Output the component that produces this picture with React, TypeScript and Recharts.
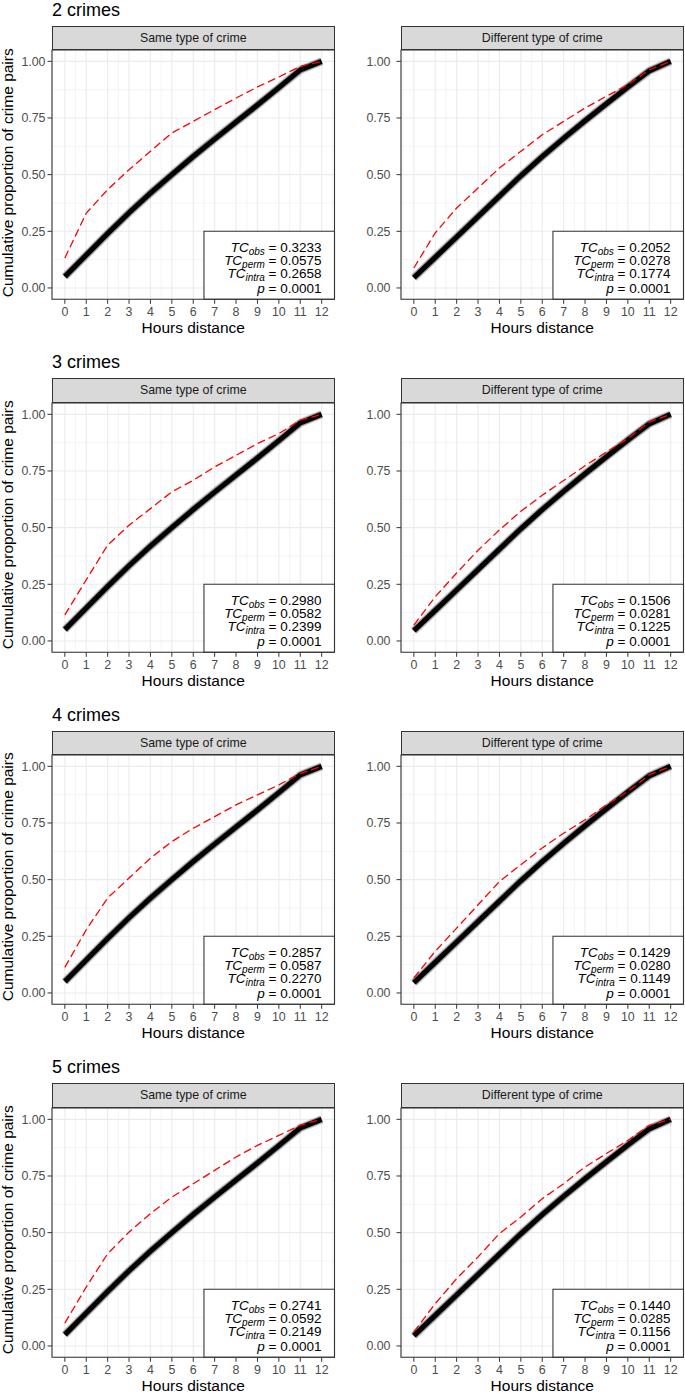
import React from "react";
import {
  LineChart,
  Line,
  XAxis,
  YAxis,
  CartesianGrid,
  ReferenceArea,
} from "recharts";

const FONT = '"Liberation Sans", Arial, Helvetica, sans-serif';

// hours distance (x) and tick sets
const hours = [0, 1, 2, 3, 4, 5, 6, 7, 8, 9, 10, 11, 12];
const xMinor = [-0.5, 0.5, 1.5, 2.5, 3.5, 4.5, 5.5, 6.5, 7.5, 8.5, 9.5, 10.5, 11.5, 12.5];
const yTicks = [0, 0.25, 0.5, 0.75, 1];
const yMinor = [0.125, 0.375, 0.625, 0.875];

const rowTitles = ["2 crimes", "3 crimes", "4 crimes", "5 crimes"];
const stripLabels = ["Same type of crime", "Different type of crime"];

// permutation envelope (black band)
const permSame = [0.05, 0.145, 0.24, 0.332, 0.418, 0.5, 0.58, 0.657, 0.732, 0.807, 0.884, 0.962, 1];
const permDiff = [0.045, 0.135, 0.225, 0.315, 0.405, 0.495, 0.58, 0.66, 0.738, 0.813, 0.887, 0.958, 1];

// observed curves (red dashed)
const obsSame2 = [0.132, 0.33, 0.434, 0.522, 0.603, 0.684, 0.735, 0.787, 0.838, 0.887, 0.931, 0.978, 1];
const obsDiff2 = [0.088, 0.243, 0.353, 0.441, 0.529, 0.603, 0.676, 0.735, 0.794, 0.846, 0.897, 0.963, 1];
const obsSame3 = [0.115, 0.27, 0.423, 0.511, 0.584, 0.658, 0.709, 0.768, 0.819, 0.871, 0.915, 0.974, 1];
const obsDiff3 = [0.07, 0.195, 0.3, 0.4, 0.49, 0.572, 0.643, 0.708, 0.773, 0.834, 0.893, 0.966, 1];
const obsSame4 = [0.113, 0.279, 0.419, 0.507, 0.595, 0.668, 0.727, 0.778, 0.83, 0.874, 0.918, 0.969, 1];
const obsDiff4 = [0.066, 0.184, 0.286, 0.389, 0.492, 0.566, 0.64, 0.705, 0.764, 0.83, 0.889, 0.962, 1];
const obsSame5 = [0.101, 0.26, 0.407, 0.503, 0.584, 0.657, 0.716, 0.775, 0.834, 0.885, 0.929, 0.974, 1];
const obsDiff5 = [0.062, 0.187, 0.297, 0.393, 0.496, 0.569, 0.65, 0.716, 0.79, 0.849, 0.907, 0.974, 1];

const obsSame = [obsSame2, obsSame3, obsSame4, obsSame5];
const obsDiff = [obsDiff2, obsDiff3, obsDiff4, obsDiff5];

// test statistics per row
const tcObsSame = ["0.3233", "0.2980", "0.2857", "0.2741"];
const tcPermSame = ["0.0575", "0.0582", "0.0587", "0.0592"];
const tcIntraSame = ["0.2658", "0.2399", "0.2270", "0.2149"];
const tcObsDiff = ["0.2052", "0.1506", "0.1429", "0.1440"];
const tcPermDiff = ["0.0278", "0.0281", "0.0280", "0.0285"];
const tcIntraDiff = ["0.1774", "0.1225", "0.1149", "0.1156"];
const pValues = ["0.0001", "0.0001", "0.0001", "0.0001"];

const ROW_STEP = 352.4;
const PLOT_TOP0 = 50.4;
const PLOT_H = 249.3;
const AXIS_H = 40;
const PAD = 2;
const PLOT_W = 282.5;

const COLS = [
  { left: 0, width: 340, yw: 52, tickMargin: 2 },
  { left: 340, width: 345, yw: 61, tickMargin: 6 },
];

function StatsText(props: any) {
  const { viewBox, obs, perm, intra, p } = props;
  if (!viewBox) return null;
  const rx = viewBox.x + viewBox.width - 13;
  const y = viewBox.y;
  const sub = { fontStyle: "italic" as const, fontSize: 10 };
  return (
    <g fontFamily={FONT} fontSize={13.5} fill="#000" style={{ whiteSpace: "pre" }}>
      <text x={rx} y={y + 21} textAnchor="end">
        <tspan fontStyle="italic">TC</tspan>
        <tspan {...sub} dy={2.5}>obs</tspan>
        <tspan dy={-2.5}>{" = " + obs}</tspan>
      </text>
      <text x={rx} y={y + 34} textAnchor="end">
        <tspan fontStyle="italic">TC</tspan>
        <tspan {...sub} dy={2.5}>perm</tspan>
        <tspan dy={-2.5}>{" = " + perm}</tspan>
      </text>
      <text x={rx} y={y + 47} textAnchor="end">
        <tspan fontStyle="italic">TC</tspan>
        <tspan {...sub} dy={2.5}>intra</tspan>
        <tspan dy={-2.5}>{" = " + intra}</tspan>
      </text>
      <text x={rx} y={y + 61.5} textAnchor="end">
        <tspan fontStyle="italic">p</tspan>
        <tspan>{" = " + p}</tspan>
      </text>
    </g>
  );
}

function Panel({ row, col }: { row: number; col: number }) {
  const c = COLS[col];
  const plotTop = PLOT_TOP0 + row * ROW_STEP;
  const perm = col === 0 ? permSame : permDiff;
  const obs = col === 0 ? obsSame[row] : obsDiff[row];
  const data = hours.map((h, i) => ({ h, perm: perm[i], obs: obs[i] }));
  const stats =
    col === 0
      ? { obs: tcObsSame[row], perm: tcPermSame[row], intra: tcIntraSame[row] }
      : { obs: tcObsDiff[row], perm: tcPermDiff[row], intra: tcIntraDiff[row] };
  const tickStyle = { fill: "#4D4D4D", fontSize: 12.4, fontFamily: FONT };
  const plotLeft = c.left + c.yw;

  return (
    <>
      <div style={{ position: "absolute", left: c.left, top: plotTop - PAD }}>
        <LineChart
          width={c.width}
          height={PAD + PLOT_H + AXIS_H}
          data={data}
          margin={{ top: PAD, right: c.width - c.yw - PLOT_W, bottom: 0, left: 0 }}
        >
          <XAxis
            xAxisId="minor"
            type="number"
            dataKey="h"
            domain={[-0.6, 12.6]}
            ticks={xMinor}
            allowDataOverflow
            hide
          />
          <YAxis
            yAxisId="minor"
            type="number"
            domain={[-0.05, 1.05]}
            ticks={yMinor}
            allowDataOverflow
            hide
          />
          <XAxis
            type="number"
            dataKey="h"
            domain={[-0.6, 12.6]}
            ticks={hours}
            interval={0}
            allowDataOverflow
            height={AXIS_H}
            axisLine={false}
            tickSize={4.5}
            tickMargin={3.5}
            tickLine={{ stroke: "#333333" }}
            tick={tickStyle}
            label={{
              value: "Hours distance",
              position: "insideBottom",
              offset: 6.5,
              fill: "#000",
              fontSize: 15.5,
              fontFamily: FONT,
            }}
          />
          <YAxis
            type="number"
            domain={[-0.05, 1.05]}
            ticks={yTicks}
            interval={0}
            allowDataOverflow
            width={c.yw}
            axisLine={false}
            tickSize={4.5}
            tickMargin={c.tickMargin}
            tickLine={{ stroke: "#333333" }}
            tick={tickStyle}
            tickFormatter={(v: number) => v.toFixed(2)}
          />
          <CartesianGrid xAxisId="minor" yAxisId="minor" stroke="#EBEBEB" strokeWidth={0.55} />
          <CartesianGrid stroke="#EBEBEB" strokeWidth={1.1} />
          <Line
            type="linear"
            dataKey="perm"
            stroke="#000"
            strokeOpacity={0.12}
            strokeWidth={9}
            dot={false}
            activeDot={false}
            isAnimationActive={false}
          />
          <Line
            type="linear"
            dataKey="perm"
            stroke="#000"
            strokeOpacity={0.35}
            strokeWidth={7}
            dot={false}
            activeDot={false}
            isAnimationActive={false}
          />
          <Line
            type="linear"
            dataKey="perm"
            stroke="#000"
            strokeWidth={5}
            dot={false}
            activeDot={false}
            isAnimationActive={false}
          />
          <Line
            type="linear"
            dataKey="obs"
            stroke="#FF0000"
            strokeWidth={1.3}
            strokeDasharray="8 4"
            dot={false}
            activeDot={false}
            isAnimationActive={false}
          />
          <ReferenceArea
            x1={6.5}
            x2={12.6}
            y1={-0.05}
            y2={0.25}
            fill="#FFFFFF"
            fillOpacity={1}
            stroke="#333333"
            strokeWidth={1.07}
            ifOverflow="visible"
            label={<StatsText obs={stats.obs} perm={stats.perm} intra={stats.intra} p={pValues[row]} />}
          />
          <ReferenceArea
            x1={-0.6}
            x2={12.6}
            y1={-0.05}
            y2={1.05}
            fill="none"
            stroke="#333333"
            strokeWidth={1.07}
            ifOverflow="visible"
          />
        </LineChart>
      </div>
      <div
        style={{
          position: "absolute",
          left: plotLeft,
          top: plotTop - 24.5,
          width: PLOT_W,
          height: 24.5,
          boxSizing: "border-box",
          background: "#D9D9D9",
          border: "1px solid #333333",
          color: "#1A1A1A",
          fontSize: 12.4,
          lineHeight: "22.5px",
          textAlign: "center",
        }}
      >
        {stripLabels[col]}
      </div>
      {col === 0 && (
        <>
          <div
            style={{
              position: "absolute",
              left: plotLeft,
              top: plotTop - 50.4,
              fontSize: 18,
              lineHeight: "20.5px",
              color: "#000",
              whiteSpace: "nowrap",
            }}
          >
            {rowTitles[row]}
          </div>
          <div
            style={{
              position: "absolute",
              left: 7.75 - 140,
              top: plotTop + 122 - 7.75,
              width: 280,
              height: 15.5,
              fontSize: 15.5,
              lineHeight: "15.5px",
              textAlign: "center",
              color: "#000",
              whiteSpace: "nowrap",
              transform: "rotate(-90deg)",
            }}
          >
            Cumulative proportion of crime pairs
          </div>
        </>
      )}
    </>
  );
}

export default function App() {
  return (
    <div
      style={{
        position: "absolute",
        left: 0,
        top: 0,
        width: 685,
        height: 1394,
        background: "#FFFFFF",
        fontFamily: FONT,
        overflow: "hidden",
      }}
    >
      {[0, 1, 2, 3].map((r) => (
        <React.Fragment key={r}>
          <Panel row={r} col={0} />
          <Panel row={r} col={1} />
        </React.Fragment>
      ))}
    </div>
  );
}
